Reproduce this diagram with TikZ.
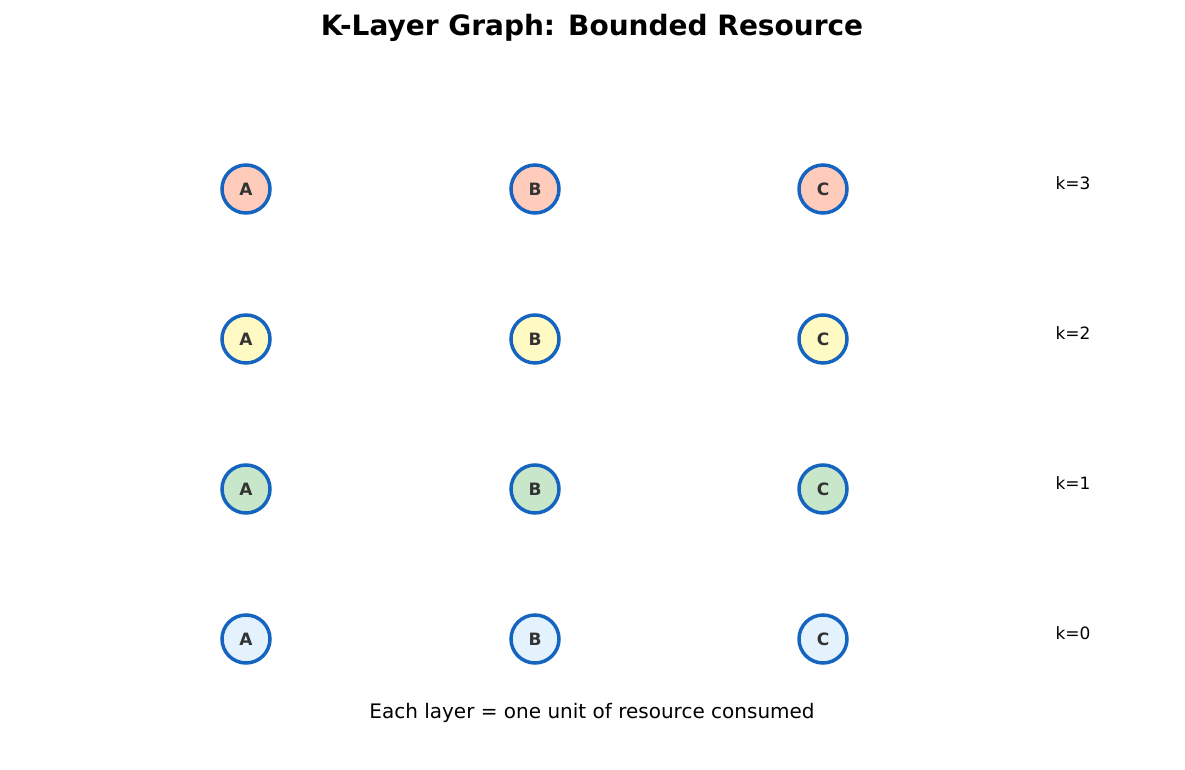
\documentclass[tikz,border=0pt]{standalone}
\usepackage{fontspec}
\setmainfont{DejaVu Sans}
\begin{document}
\begin{tikzpicture}[x=1pt,y=-1pt,
  nd/.style={circle,draw=bord,line width=3.5pt,minimum size=48pt,inner sep=0pt,text=txt,font=\fontsize{17}{17}\selectfont\bfseries},
  lab/.style={font=\fontsize{17}{17}\selectfont}]
\definecolor{bord}{HTML}{1565C0}
\definecolor{txt}{HTML}{333333}
\definecolor{c3}{HTML}{FFCCBC}
\definecolor{c2}{HTML}{FFF9C4}
\definecolor{c1}{HTML}{C8E6C9}
\definecolor{c0}{HTML}{E3F2FD}
\useasboundingbox (0,0) rectangle (1185,770);
\node[font=\fontsize{28}{28}\selectfont\bfseries] (title) at (592,28) {K-Layer Graph: Bounded Resource};
\foreach \k/\y in {3/189,2/339,1/489,0/639}{
  \node[nd,fill=c\k] (A\k) at (246,\y) {A};
  \node[nd,fill=c\k] (B\k) at (535,\y) {B};
  \node[nd,fill=c\k] (C\k) at (823,\y) {C};
  \node[lab] (k\k) at (1073,\y-6) {k=\k};
}
\node[lab,font=\fontsize{20}{20}\selectfont] (foot) at (592,713) {Each layer = one unit of resource consumed};
\end{tikzpicture}
\end{document}
